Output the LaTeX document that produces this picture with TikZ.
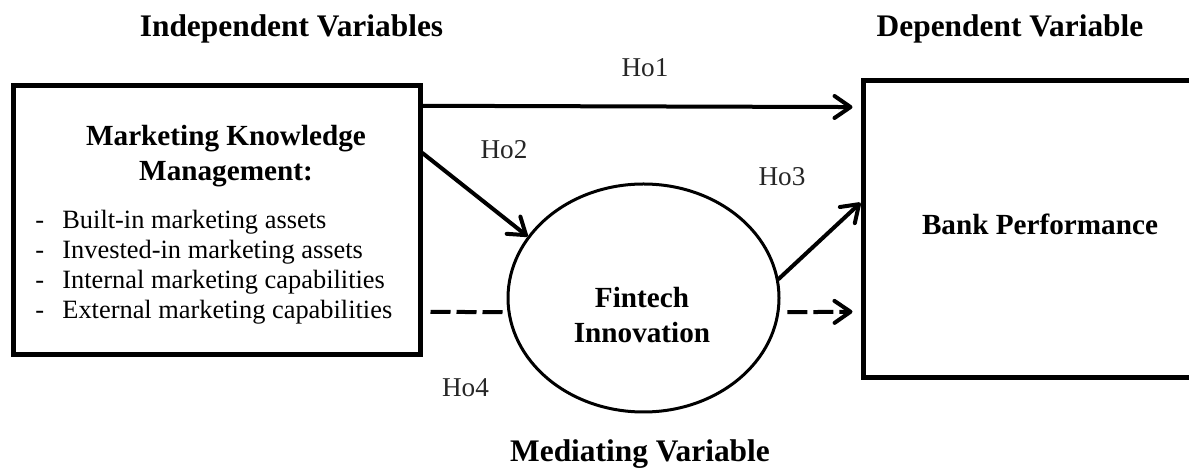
\documentclass[tikz,border=0pt]{standalone}
\usepackage{fontspec}
\setmainfont{Liberation Serif}
\usetikzlibrary{arrows.meta,shapes.geometric}
\tikzset{
  varbox/.style = {draw, rectangle, line width=2.5pt, inner sep=0pt},
  medellipse/.style = {draw, ellipse, line width=1.5pt, inner sep=0pt},
  headtext/.style = {font=\fontsize{15.7}{18}\selectfont\bfseries, anchor=base},
  boxtext/.style = {font=\fontsize{14.6}{17.5}\selectfont\bfseries, align=center},
  hyplabel/.style = {font=\fontsize{13.6}{16}\selectfont, text=black!85, anchor=base},
  hyparrow/.style = {line width=2pt, line cap=round,
                     -{Straight Barb[length=8pt, width=11pt, round]}},
  hypdash/.style = {hyparrow, line cap=butt, dash pattern=on 10pt off 3pt}
}

\begin{document}
\begin{tikzpicture}[x=0.5pt, y=-0.5pt]
	\def\dsh{\makebox[13.5pt][l]{-}}
	\useasboundingbox (0,0) rectangle (1189,469);

	% Headings
	\node[headtext] (indep) at (291.5,37) {Independent Variables};
	\node[headtext] (dep) at (1010,37) {Dependent Variable};
	\node[headtext] (med) at (640,462) {Mediating Variable};

	% Boxes
	\node[varbox, minimum width=203.5pt, minimum height=134.5pt] (mkm) at (216.5,220) {};
	\node[varbox, minimum width=166pt, minimum height=148.5pt] (bp) at (1029,229.5) {};
	\node[medellipse, minimum width=135.5pt, minimum height=114pt] (fi) at (643.5,298) {};

	% Box texts
	\node[boxtext] (mkmtitle) at (226,156) {Marketing Knowledge\\Management:};
	\node[font=\fontsize{13.2}{14.9}\selectfont, align=left, anchor=north west, inner sep=0pt]
		(mkmlist) at (35,210) {\dsh Built-in marketing assets\\
		\dsh Invested-in marketing assets\\
		\dsh Internal marketing capabilities\\
		\dsh External marketing capabilities};
	\node[boxtext] (bptitle) at (1040,224) {Bank Performance};
	\node[boxtext] (fititle) at (642,315) {Fintech\\Innovation};

	% Hypotheses
	\draw[hyparrow, shorten >=4pt] (mkm.29.6) -- (bp.144.2);
	\draw[hyparrow] (mkm.18.8) -- (fi.152.5);
	\draw[hyparrow] (fi.8) -- (bp.171.1);
	\draw[hypdash, -, shorten <=4pt] (mkm.-24.3) -- (fi.186.3);
	\draw[hypdash, shorten <=4pt, shorten >=4pt] (fi.354.6) -- (bp.206);

	% Labels
	\node[hyplabel] (ho1) at (645,77) {Ho1};
	\node[hyplabel] (ho2) at (504,159) {Ho2};
	\node[hyplabel] (ho3) at (782,186) {Ho3};
	\node[hyplabel] (ho4) at (465.5,397) {Ho4};
\end{tikzpicture}
\end{document}
